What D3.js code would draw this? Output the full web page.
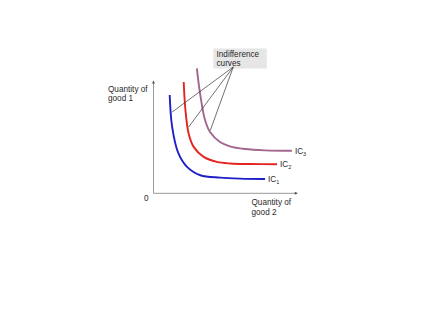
<!DOCTYPE html>
<html><head><meta charset="utf-8">
<script src="https://cdn.jsdelivr.net/npm/d3@7"></script>
<style>body{margin:0;background:#fff;}svg{display:block;font-family:"Liberation Sans",Arial,sans-serif;}</style>
</head><body>
<svg id="c" width="440" height="330"></svg>
<script>
// Data (domain units 0-100 on each axis)
const ic1X = [11.2, 12.9, 17.2, 23.2, 32.4, 46.2, 60.0, 77.2];
const ic1Y = [88.3, 59.7, 36.0, 23.7, 16.2, 14.1, 13.2, 12.8];
const ic2X = [20.9, 22.1, 24.3, 27.8, 34.7, 43.9, 53.1, 66.9, 85.5];
const ic2Y = [100.0, 74.8, 53.8, 41.7, 32.7, 28.2, 26.8, 26.3, 26.1];
const ic3X = [30.0, 32.2, 35.6, 39.1, 46.0, 52.9, 63.3, 77.2, 95.8];
const ic3Y = [112.3, 90.0, 66.0, 55.0, 46.1, 42.2, 39.8, 38.6, 38.2];
const seriesNames = ["IC", "IC", "IC"];
const seriesSubs = ["1", "2", "3"];
const seriesColors = ["#1f1fc8", "#e3241f", "#a3668f"];
const calloutTargets = [[12.9, 73], [24.3, 59.5], [39.3, 56.5]];
const calloutOrigin = [55.2, 113.5];
const yLabel = ["Quantity of", "good 1"];
const xLabel = ["Quantity of", "good 2"];
const legendLines = ["Indifference", "curves"];

const svg = d3.select("#c");
const x = d3.scaleLinear().domain([0, 100]).range([153.5, 298]);
const y = d3.scaleLinear().domain([0, 100]).range([193.3, 82]);

// axes
const axisColor = "#999";
svg.append("line").attr("x1", x(0)).attr("x2", x(0)).attr("y1", y(0)).attr("y2", y(101))
  .attr("stroke", axisColor).attr("stroke-width", 1);
svg.append("line").attr("x1", x(0)).attr("x2", x(99.5)).attr("y1", y(0)).attr("y2", y(0))
  .attr("stroke", axisColor).attr("stroke-width", 1);
svg.append("path").attr("d", `M${x(0)-1.5},${y(101)+2.5}L${x(0)},${y(101)-0.5}L${x(0)+1.5},${y(101)+2.5}Z`).attr("fill", "#555");
svg.append("path").attr("d", `M${x(99.5)-2.5},${y(0)-1.5}L${x(99.5)+0.5},${y(0)}L${x(99.5)-2.5},${y(0)+1.5}Z`).attr("fill", "#555");

const fs = 8.2;
const tc = "#2a2a2a";
svg.append("text").attr("x", 144).attr("y", 200.5).attr("font-size", fs).attr("fill", tc).text("0");
svg.append("text").attr("x", 108).attr("y", 92).attr("font-size", fs).attr("fill", tc)
  .selectAll("tspan").data(yLabel).join("tspan").attr("x", 108).attr("dy", (d, i) => i ? 9 : 0).text(d => d);
svg.append("text").attr("x", 251.5).attr("y", 205).attr("font-size", fs).attr("fill", tc)
  .selectAll("tspan").data(xLabel).join("tspan").attr("x", 251.5).attr("dy", (d, i) => i ? 9.5 : 0).text(d => d);

// legend box
svg.append("rect").attr("x", 213.3).attr("y", 48.5).attr("width", 53.5).attr("height", 20).attr("fill", "#e6e6e6");
svg.append("text").attr("x", 216.5).attr("y", 57).attr("font-size", fs).attr("fill", tc)
  .selectAll("tspan").data(legendLines).join("tspan").attr("x", 216.5).attr("dy", (d, i) => i ? 8.6 : 0).text(d => d);

// curves
const series = [[ic1X, ic1Y], [ic2X, ic2Y], [ic3X, ic3Y]];
const line = d3.line().x(d => x(d[0])).y(d => y(d[1])).curve(d3.curveCatmullRom.alpha(0.5));
series.forEach((s, i) => {
  const pts = s[0].map((v, j) => [v, s[1][j]]);
  svg.append("path").attr("d", line(pts)).attr("fill", "none")
    .attr("stroke", seriesColors[i]).attr("stroke-width", 1.9);
  const last = pts[pts.length - 1];
  const t = svg.append("text").attr("x", x(last[0]) + 3).attr("y", y(last[1]) + 3)
    .attr("font-size", fs).attr("fill", tc);
  t.append("tspan").text(seriesNames[i]);
  t.append("tspan").attr("font-size", 5.5).attr("dy", 2).text(seriesSubs[i]);
});

// callout lines
calloutTargets.forEach(p => {
  svg.append("line").attr("x1", x(calloutOrigin[0])).attr("y1", y(calloutOrigin[1]))
    .attr("x2", x(p[0])).attr("y2", y(p[1])).attr("stroke", "#333").attr("stroke-width", 0.7);
});
</script>
</body></html>
